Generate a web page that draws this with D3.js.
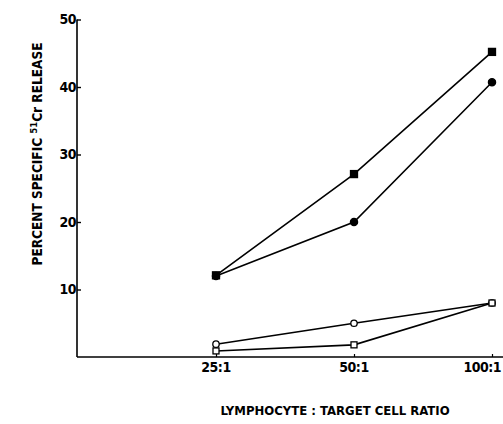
<!DOCTYPE html>
<html><head><meta charset="utf-8">
<script src="https://cdn.jsdelivr.net/npm/d3@7"></script>
<style>body{margin:0;background:#fff}svg{display:block}</style>
</head><body>
<script>
const categories = ["25:1", "50:1", "100:1"];
const filledSquare = [12.1, 27.1, 45.2];
const filledCircle = [12.0, 20.0, 40.7];
const openCircle = [1.9, 5.0, 8.0];
const openSquare = [0.9, 1.8, 8.0];
const yTicks = [10, 20, 30, 40, 50];

const W = 503, H = 424;
const font = "'DejaVu Sans Condensed','Liberation Sans',sans-serif";
const svg = d3.select("body").append("svg").attr("width", W).attr("height", H);

const x = d3.scalePoint().domain(categories).range([216, 492]);
const y = d3.scaleLinear().domain([0, 50]).range([357, 19.5]);
const x0 = 77;

// y axis
const yAxis = svg.append("g").attr("transform", `translate(${x0},0)`)
  .call(d3.axisRight(y).tickValues(yTicks).tickSize(4).tickFormat(""));
yAxis.select(".domain").attr("d", `M0,${y(0)}V${y(50)}`).attr("stroke-width", 1.6);
yAxis.selectAll(".tick line").attr("stroke-width", 1.4);
svg.append("g").selectAll("text").data(yTicks).join("text")
  .attr("x", x0 - 1).attr("y", d => y(d) + 4.5)
  .attr("text-anchor", "end").attr("font-family", font).attr("font-weight", "bold")
  .attr("font-size", 14).attr("letter-spacing", -0.5).text(d => d);

// x axis
const xAxis = svg.append("g").attr("transform", `translate(0,${y(0)})`)
  .call(d3.axisTop(x).tickSize(3).tickFormat(""));
xAxis.select(".domain").attr("d", `M${x0},0H${W}`).attr("stroke-width", 1.6);
xAxis.selectAll(".tick line").attr("stroke-width", 1.2);
svg.append("g").selectAll("text").data(categories).join("text")
  .attr("x", (d, i) => i === categories.length - 1 ? W - 2 : x(d))
  .attr("y", y(0) + 15)
  .attr("text-anchor", (d, i) => i === categories.length - 1 ? "end" : "middle")
  .attr("font-family", font).attr("font-weight", "bold")
  .attr("font-size", 14).attr("letter-spacing", -0.5).text(d => d);

// axis titles
svg.append("text").attr("transform", "translate(42,154) rotate(-90)")
  .attr("text-anchor", "middle").attr("font-family", font).attr("font-weight", "bold")
  .attr("font-size", 13.5)
  .call(t => {
    t.append("tspan").text("PERCENT SPECIFIC ");
    t.append("tspan").attr("font-size", 9.5).attr("dy", -5).text("51");
    t.append("tspan").attr("dy", 5).text("Cr");
    t.append("tspan").text(" RELEASE");
  });
svg.append("text").attr("x", 335).attr("y", 415).attr("text-anchor", "middle")
  .attr("font-family", font).attr("font-weight", "bold").attr("font-size", 13)
  .text("LYMPHOCYTE : TARGET  CELL RATIO");

const line = d3.line().x((d, i) => x(categories[i])).y(d => y(d));
const series = [
  {v: filledSquare, shape: "square", fill: "#000"},
  {v: filledCircle, shape: "circle", fill: "#000"},
  {v: openCircle, shape: "circle", fill: "#fff"},
  {v: openSquare, shape: "square", fill: "#fff"}
];
series.forEach(s => {
  svg.append("path").attr("d", line(s.v)).attr("fill", "none")
    .attr("stroke", "#000").attr("stroke-width", 1.6);
});
series.forEach(s => {
  const g = svg.append("g");
  s.v.forEach((d, i) => {
    const cx = x(categories[i]), cy = y(d);
    if (s.shape === "square") {
      const sz = s.fill === "#000" ? 7 : 6;
      g.append("rect").attr("x", cx - sz / 2).attr("y", cy - sz / 2)
        .attr("width", sz).attr("height", sz).attr("fill", s.fill)
        .attr("stroke", "#000").attr("stroke-width", 1.3);
    } else {
      g.append("circle").attr("cx", cx).attr("cy", cy)
        .attr("r", s.fill === "#000" ? 3.6 : 3.2).attr("fill", s.fill)
        .attr("stroke", "#000").attr("stroke-width", 1.3);
    }
  });
});
</script>
</body></html>
